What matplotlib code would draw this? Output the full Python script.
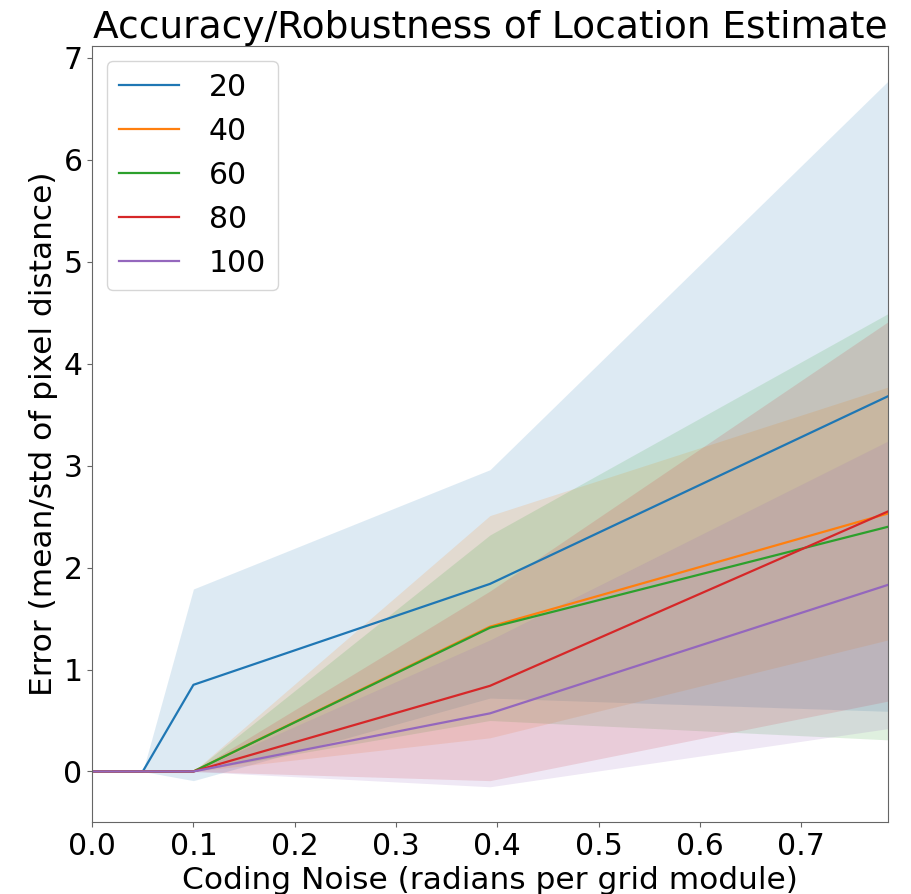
import numpy as np
import matplotlib
matplotlib.use('Agg')
import matplotlib.pyplot as plt

#%% values
noise = [0.0, 0.05, 0.1, 0.3927, 0.7854]
labels = ['20', '40', '60', '80', '100']

mean_20 = [0, 0, 0.85, 1.84, 3.68]
std_20 = [0, 0, 0.94, 1.12, 3.09]
mean_40 = [0, 0, 0, 1.42, 2.53]
std_40 = [0, 0, 0, 1.09, 1.24]
mean_60 = [0, 0, 0, 1.41, 2.40]
std_60 = [0, 0, 0, 0.91, 2.09]
mean_80 = [0, 0, 0, 0.84, 2.55]
std_80 = [0, 0, 0, 0.93, 1.86]
mean_100 = [0, 0, 0, 0.57, 1.83]
std_100 = [0, 0, 0, 0.72, 1.41]

means = [mean_20, mean_40, mean_60, mean_80, mean_100]
stds = [std_20, std_40, std_60, std_80, std_100]

#%% plot
fig = plt.figure(figsize=(9.12, 8.94), dpi=100)
ax = fig.add_subplot(111)
fig.subplots_adjust(left=0.101, right=0.9735, top=0.9485, bottom=0.0805)

x = np.array(noise)
for k in range(len(labels)):
    m = np.array(means[k])
    s = np.array(stds[k])
    line, = ax.plot(x, m, lw=1.6, label=labels[k])
    ax.fill_between(x, m - s, m + s, color=line.get_color(), alpha=0.15, lw=0)

ax.set_xlim(0, np.pi / 4)
ax.set_title('Accuracy/Robustness of Location Estimate', fontsize=27)
ax.set_xlabel('Coding Noise (radians per grid module)', fontsize=22.5)
ax.set_ylabel('Error (mean/std of pixel distance)', fontsize=22.5)
ax.tick_params(labelsize=21.5, color='0.4')
for sp in ax.spines.values():
    sp.set_color('0.4')
ax.legend(loc='upper left', fontsize=21.5, handletextpad=1.0)

fig.savefig('out.png', dpi=100)
